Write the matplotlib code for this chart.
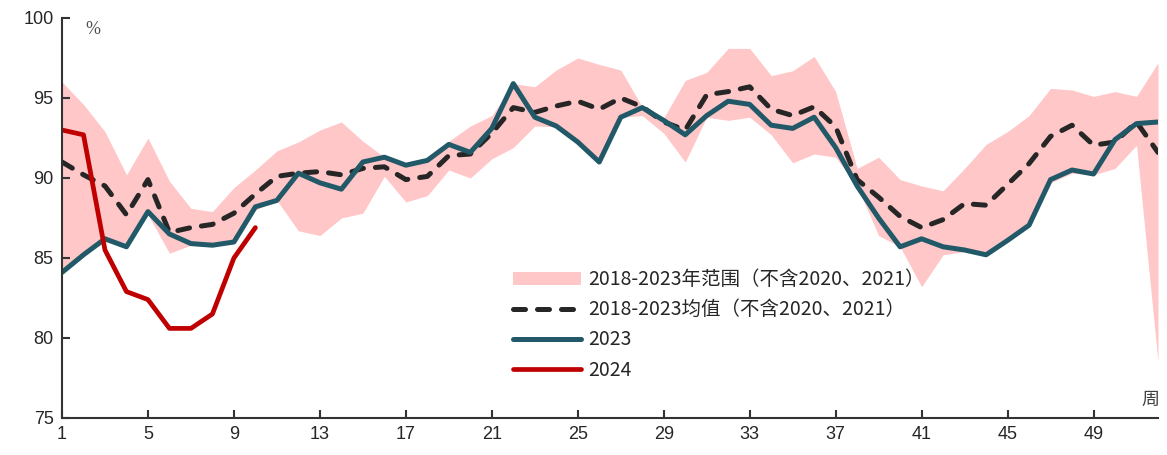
import matplotlib
matplotlib.use("Agg")
import matplotlib.pyplot as plt
import numpy as np

weeks = list(range(1, 53))

range_upper = [96.0, 94.6, 92.9, 90.2, 92.5, 89.8, 88.1, 87.9, 89.4, 90.5,
               91.7, 92.25, 93.0, 93.5, 92.3, 91.3, 90.9, 91.2, 92.3, 93.25,
               93.9, 95.9, 95.7, 96.75, 97.5, 97.1, 96.75, 94.45, 93.75, 96.1,
               96.6, 98.1, 98.1, 96.4, 96.7, 97.6, 95.4, 90.6, 91.3, 89.9,
               89.5, 89.2, 90.6, 92.1, 92.9, 93.9, 95.6, 95.5, 95.1, 95.4,
               95.1, 97.2]
range_lower = [84.1, 85.2, 86.0, 85.7, 87.7, 85.3, 85.8, 85.8, 86.0, 88.0,
               88.6, 86.7, 86.4, 87.5, 87.8, 90.1, 88.5, 88.9, 90.5, 90.0,
               91.2, 91.9, 93.25, 93.2, 92.25, 91.0, 93.8, 93.9, 92.8, 91.0,
               93.8, 93.6, 93.8, 92.7, 90.95, 91.5, 91.3, 89.5, 86.4, 85.7,
               83.2, 85.2, 85.4, 85.2, 86.1, 87.0, 89.7, 90.3, 90.2, 90.6,
               92.05, 78.5]
mean_vals = [91.0, 90.2, 89.5, 87.7, 89.9, 86.6, 86.9, 87.1, 87.8, 89.0,
             90.1, 90.3, 90.4, 90.2, 90.6, 90.7, 89.9, 90.1, 91.4, 91.5,
             92.8, 94.4, 94.1, 94.5, 94.8, 94.3, 95.0, 94.45, 93.5, 93.0,
             95.2, 95.4, 95.7, 94.3, 93.9, 94.45, 93.2, 89.9, 88.8, 87.6,
             86.9, 87.4, 88.4, 88.3, 89.6, 90.9, 92.6, 93.3, 92.05, 92.25,
             93.5, 91.6]
y2023 = [84.1, 85.2, 86.2, 85.7, 87.9, 86.5, 85.9, 85.8, 86.0, 88.2,
         88.6, 90.3, 89.7, 89.3, 91.0, 91.3, 90.8, 91.1, 92.1, 91.6,
         93.1, 95.9, 93.8, 93.25, 92.25, 91.0, 93.8, 94.4, 93.6, 92.7,
         93.9, 94.8, 94.6, 93.3, 93.1, 93.8, 91.9, 89.5, 87.5, 85.7,
         86.2, 85.7, 85.5, 85.2, 86.1, 87.05, 89.9, 90.5, 90.25, 92.4,
         93.4, 93.5]
weeks2024 = list(range(1, 11))
y2024 = [93.0, 92.7, 85.5, 82.9, 82.4, 80.6, 80.6, 81.5, 85.0, 86.9]

xticks = list(range(1, 53, 4))
yticks = [75, 80, 85, 90, 95, 100]

label_range = "2018-2023年范围（不含2020、2021）"
label_mean = "2018-2023均值（不含2020、2021）"
label_2023 = "2023"
label_2024 = "2024"

plt.rcParams['font.family'] = ['Noto Sans CJK SC', 'DejaVu Sans']

fig = plt.figure(figsize=(11.67, 4.55), dpi=100)
ax = fig.add_axes([62/1167, 37/455, 1096/1167, 400/455])

ax.fill_between(weeks, range_lower, range_upper, color='#FFC7C7', linewidth=0,
                label=label_range)
ax.plot(weeks, mean_vals, color='#262626', lw=3.6, linestyle=(0, (2.4, 2.4)),
        dash_capstyle='round', label=label_mean)
ax.plot(weeks, y2023, color='#215968', lw=3.6, solid_capstyle='round',
        label=label_2023)
ax.plot(weeks2024, y2024, color='#C00000', lw=3.4, solid_capstyle='round',
        label=label_2024)

ax.set_xlim(1, 52)
ax.set_ylim(75, 100)
ax.set_xticks(xticks)
ax.set_yticks(yticks)
for s in ['top', 'right']:
    ax.spines[s].set_visible(False)
for s in ['left', 'bottom']:
    ax.spines[s].set_color('#333333')
    ax.spines[s].set_linewidth(1.5)
ax.tick_params(direction='in', length=6, width=1.5, color='#333333',
               labelsize=13, labelcolor='#262626', pad=6)
for lab in ax.get_xticklabels() + ax.get_yticklabels():
    lab.set_family(['Liberation Sans', 'DejaVu Sans'])

ax.text(0.028, 0.97, '%', transform=ax.transAxes, fontsize=13,
        family=['Liberation Serif', 'DejaVu Serif'], color='#505050',
        ha='center', va='center')
ax.text(0.993, 0.045, '周', transform=ax.transAxes, fontsize=13,
        color='#404040', ha='center', va='center')

leg = ax.legend(loc='upper left', bbox_to_anchor=(0.4115, 0.372),
                frameon=False, fontsize=14, handlelength=3.5,
                handletextpad=0.35, labelspacing=0.47, borderaxespad=0,
                borderpad=0)
for t in leg.get_texts():
    t.set_color('#262626')

fig.savefig('out.png', dpi=100)
